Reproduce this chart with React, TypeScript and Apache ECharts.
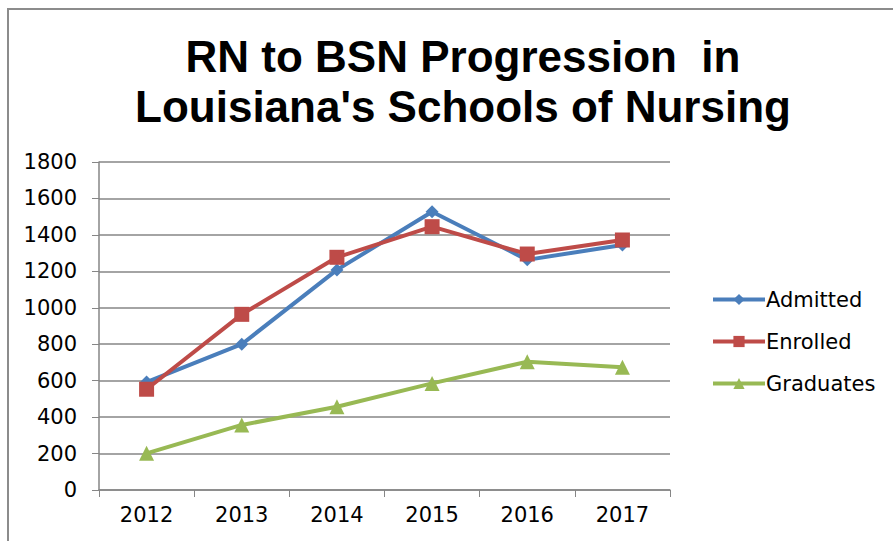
import React, { useEffect, useRef } from "react";
import * as echarts from "echarts";

const years = ["2012", "2013", "2014", "2015", "2016", "2017"];
const admitted = [592, 800, 1208, 1527, 1263, 1345];
const enrolled = [553, 964, 1277, 1445, 1295, 1372];
const graduates = [201, 357, 457, 585, 704, 673];

const TITLE_FONT = "'Liberation Sans', Arial, sans-serif";
const FONT = "'DejaVu Sans', 'Liberation Sans', sans-serif";

export default function App() {
  const ref = useRef<HTMLDivElement>(null);
  useEffect(() => {
    document.body.style.margin = "0";
    const chart = echarts.init(ref.current!, null, { renderer: "svg" });
    const mk = (name: string, data: number[], color: string, symbol: string, size: number) => ({
      name,
      type: "line",
      data,
      symbol,
      symbolSize: size,
      lineStyle: { color, width: 4 },
      itemStyle: { color },
    });
    chart.setOption({
      animation: false,
      backgroundColor: "#fff",
      textStyle: { fontFamily: FONT },
      title: {
        text: "RN to BSN Progression  in\nLouisiana's Schools of Nursing",
        left: 458,
        textAlign: "center",
        top: 26,
        textStyle: { fontFamily: TITLE_FONT, fontSize: 44, fontWeight: "bold", color: "#000", lineHeight: 50 },
      },
      graphic: [
        {
          type: "polyline",
          shape: { points: [[8, 541], [8, 9], [893, 9]] },
          style: { fill: "none", stroke: "#8c8c8c", lineWidth: 2 },
          silent: true,
          z: -1,
        },
      ],
      legend: {
        orient: "vertical",
        left: 706,
        top: 284,
        itemWidth: 52,
        itemHeight: 14,
        itemGap: 21,
        lineStyle: { width: 4 },
        textStyle: { fontFamily: FONT, fontSize: 21, color: "#000", padding: [0, 0, 0, -4] },
        data: ["Admitted", "Enrolled", "Graduates"],
      },
      grid: { left: 99, right: 223, top: 162, bottom: 51 },
      xAxis: {
        type: "category",
        data: years,
        boundaryGap: true,
        axisLine: { lineStyle: { color: "#868686", width: 1.5 } },
        axisTick: { show: true, length: 7, lineStyle: { color: "#868686" } },
        axisLabel: { color: "#000", fontSize: 21, fontFamily: FONT, margin: 14 },
      },
      yAxis: {
        type: "value",
        min: 0,
        max: 1800,
        interval: 200,
        axisLine: { show: true, lineStyle: { color: "#868686", width: 1.5 } },
        axisTick: { show: true, length: 7, lineStyle: { color: "#868686" } },
        splitLine: { lineStyle: { color: "#868686", width: 1.5 } },
        axisLabel: { color: "#000", fontSize: 21, fontFamily: FONT, margin: 22, formatter: (v: number) => String(v) },
      },
      series: [
        mk("Admitted", admitted, "#4a7ebb", "diamond", 13),
        mk("Enrolled", enrolled, "#be4b48", "rect", 15),
        mk("Graduates", graduates, "#98b954", "triangle", 15),
      ],
    });
    return () => chart.dispose();
  }, []);
  return (
    <div style={{ position: "absolute", left: 0, top: 0 }}>
      <div ref={ref} style={{ width: 893, height: 541 }} />
    </div>
  );
}
